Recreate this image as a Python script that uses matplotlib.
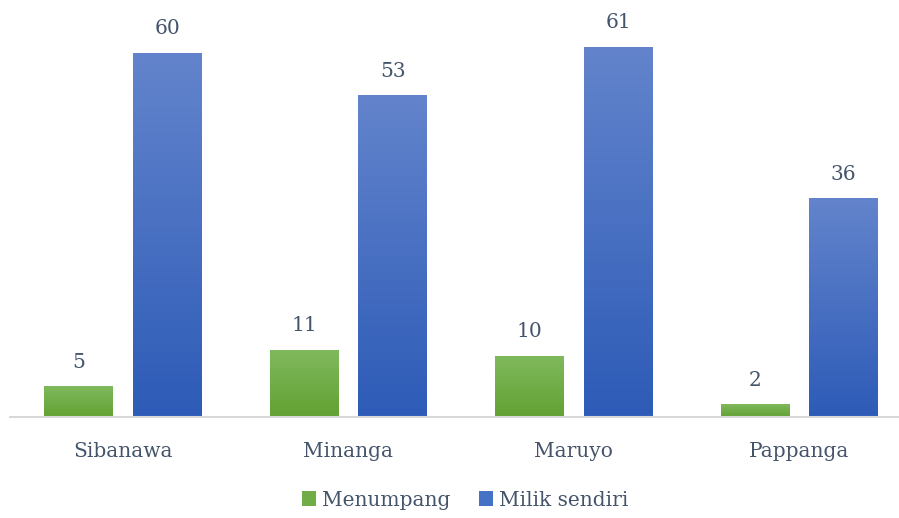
import matplotlib

matplotlib.use("Agg")
import matplotlib.pyplot as plt
import numpy as np
from matplotlib.colors import LinearSegmentedColormap
from matplotlib.patches import Patch

categories = ["Sibanawa", "Minanga", "Maruyo", "Pappanga"]
menumpang = [5, 11, 10, 2]
milik_sendiri = [60, 53, 61, 36]
series_names = ["Menumpang", "Milik sendiri"]

TEXT = "#44546A"
plt.rcParams["font.family"] = ["DejaVu Serif"]

fig = plt.figure(figsize=(8.99, 5.18), dpi=100)
ax = fig.add_axes([10 / 899, 101 / 518, 888 / 899, 394 / 518])

x = np.arange(len(categories))
width = 0.305
green_bars = ax.bar(x - 0.195, menumpang, width, color="#6AAA40")
blue_bars = ax.bar(x + 0.198, milik_sendiri, width, color="#3A68C0")

green_cmap = LinearSegmentedColormap.from_list("g", ["#62A132", "#80B95D"])
blue_cmap = LinearSegmentedColormap.from_list("b", ["#2D5BB7", "#6384CC"])
grad = np.linspace(0, 1, 256).reshape(-1, 1)

# paint a vertical gradient inside every bar
for bars, cmap in ((green_bars, green_cmap), (blue_bars, blue_cmap)):
    for bar in bars:
        x0, y0 = bar.get_x(), bar.get_y()
        w, h = bar.get_width(), bar.get_height()
        ax.imshow(grad, extent=(x0, x0 + w, y0, y0 + h), origin="lower",
                  cmap=cmap, aspect="auto", zorder=2)
        bar.set_visible(False)
        ax.text(x0 + w / 2, h + 2.5, str(int(h)), ha="center", va="bottom",
                fontsize=14.5, color=TEXT)

ax.set_xlim(-0.5, 3.44)
ax.set_ylim(0, 65)
ax.set_xticks(x)
ax.set_xticklabels(categories, fontsize=14.5, color=TEXT)
ax.tick_params(axis="x", length=0, pad=18)
ax.set_yticks([])
for side in ("top", "right", "left"):
    ax.spines[side].set_visible(False)
ax.spines["bottom"].set_color("#D9D9D9")
ax.spines["bottom"].set_linewidth(1.5)

handles = [Patch(facecolor="#70AD47"), Patch(facecolor="#4472C4")]
fig.legend(handles, series_names, loc="center", bbox_to_anchor=(465 / 899, 1 - 500 / 518),
           ncol=2, frameon=False, fontsize=14.5, labelcolor=TEXT,
           handlelength=0.7, handleheight=0.7, handletextpad=0.3, columnspacing=1.4)

fig.savefig("out.png", dpi=100)
